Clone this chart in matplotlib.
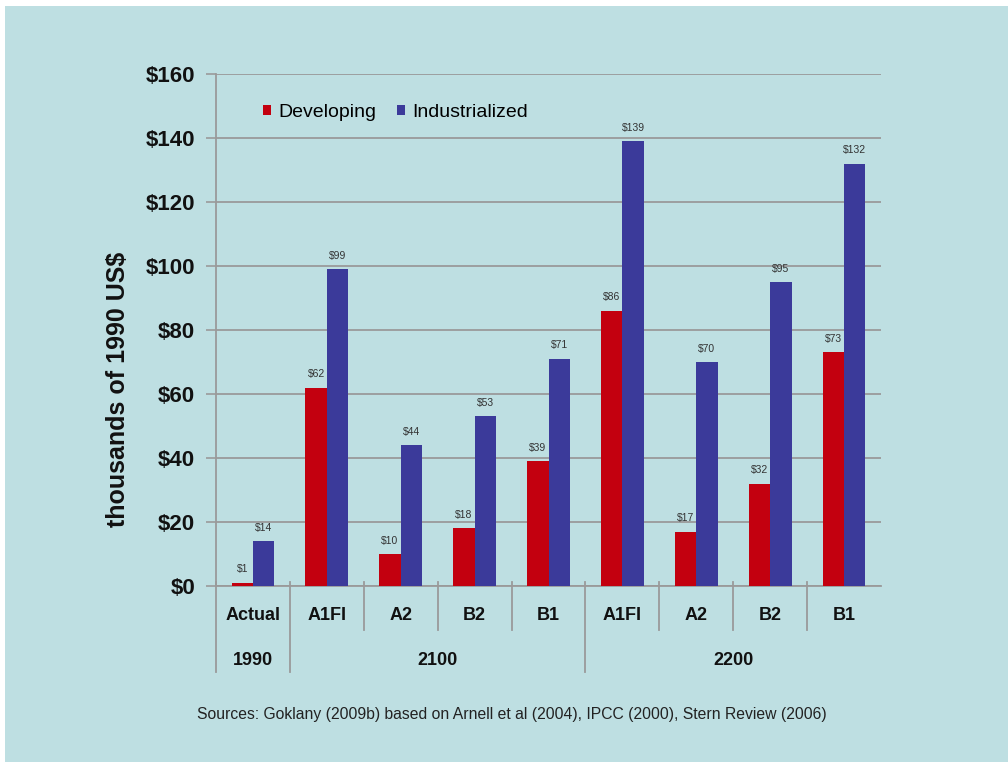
import matplotlib.pyplot as plt
from matplotlib.patches import Rectangle
import numpy as np

plt.rcParams['font.family'] = ['Liberation Sans', 'DejaVu Sans']

# data
scenarios = ['Actual', 'A1FI', 'A2', 'B2', 'B1', 'A1FI', 'A2', 'B2', 'B1']
years = ['1990', '2100', '2200']
year_spans = [(0, 1), (1, 5), (5, 9)]
developing = [1, 62, 10, 18, 39, 86, 17, 32, 73]
industrialized = [14, 99, 44, 53, 71, 139, 70, 95, 132]
yticks = [0, 20, 40, 60, 80, 100, 120, 140, 160]

bg = '#bedfe2'
red = '#c3000f'
blue = '#3b3a9a'
grey = '#9a9a9a'

fig = plt.figure(figsize=(10.08, 7.62), dpi=100, facecolor='white')
# light blue slide background (thin white strip left and top)
fig.patches.append(Rectangle((5 / 1008, 0), 1, 1 - 6 / 762, transform=fig.transFigure,
                             facecolor=bg, edgecolor='none', zorder=-5))

ax = fig.add_axes([216 / 1008, 176 / 762, 665 / 1008, 512 / 762])
ax.set_facecolor('none')

x = np.arange(len(scenarios))
w = 0.29
b1 = ax.bar(x - w / 2, developing, w, color=red, label='Developing', zorder=3)
b2 = ax.bar(x + w / 2, industrialized, w, color=blue, label='Industrialized', zorder=3)

for bars, vals in ((b1, developing), (b2, industrialized)):
    for r, v in zip(bars, vals):
        ax.annotate('$%d' % v, (r.get_x() + r.get_width() / 2, v), xytext=(0, 6),
                    textcoords='offset points', ha='center', va='bottom',
                    fontsize=7.5, color='#333333')

ax.set_xlim(-0.5, len(scenarios) - 0.5)
ax.set_ylim(0, 160)
ax.set_yticks(yticks)
ax.set_yticklabels(['$%d' % t for t in yticks], fontsize=16, fontweight='bold', color='#111111')
ax.yaxis.grid(True, color=grey, linewidth=1.3, zorder=0)
ax.tick_params(axis='y', length=7, width=1.2, color=grey, pad=8)
ax.set_xticks([])
for s in ['top', 'right']:
    ax.spines[s].set_visible(False)
for s in ['left', 'bottom']:
    ax.spines[s].set_color(grey)
    ax.spines[s].set_linewidth(1.3)

# two-level category axis
tr = ax.get_xaxis_transform()
for i, name in enumerate(scenarios):
    ax.text(i, -0.058, name, transform=tr, ha='center', va='center',
            fontsize=13, fontweight='bold', color='#111111')
for yr, (a, b) in zip(years, year_spans):
    ax.text((a + b - 1) / 2, -0.146, yr, transform=tr, ha='center', va='center',
            fontsize=13, fontweight='bold', color='#111111')
group_edges = [a for a, b in year_spans]
for i in range(len(scenarios)):
    if i in group_edges:
        ax.plot([i - 0.5, i - 0.5], [0.008, -0.168], transform=tr, color=grey,
                linewidth=1.3, clip_on=False)
    else:
        ax.plot([i - 0.5, i - 0.5], [0.008, -0.086], transform=tr, color=grey,
                linewidth=1.3, clip_on=False)

fig.text(118 / 1008, 1 - 389 / 762, 'thousands of 1990 US$', rotation=90, ha='center',
         va='center', fontsize=18, fontweight='bold', color='#111111')

ax.legend(loc='center left', bbox_to_anchor=(0.056, 0.925), ncol=2, frameon=False,
          borderpad=0, handlelength=0.42, handleheight=0.42, handletextpad=0.35,
          columnspacing=1.1, fontsize=14)

fig.text(512 / 1008, 1 - 715 / 762,
         'Sources: Goklany (2009b) based on Arnell et al (2004), IPCC (2000), Stern Review (2006)',
         ha='center', va='center', fontsize=11.3, color='#222222')

fig.savefig('out.png', dpi=100, facecolor='white')
